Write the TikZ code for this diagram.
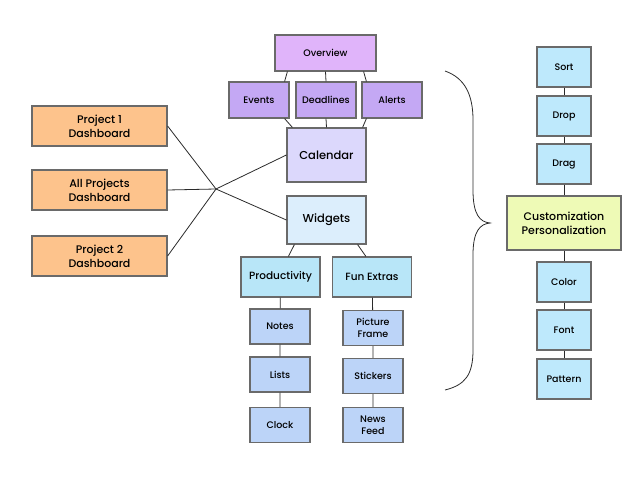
\documentclass[tikz,border=0pt]{standalone}
\usepackage{fontspec}
\setmainfont{Poppins Medium}
\definecolor{edge}{HTML}{6A6A6A}
\definecolor{linkcol}{HTML}{2A2A2A}
\definecolor{ovcol}{HTML}{E0B4FA}
\definecolor{evcol}{HTML}{C4A8F4}
\definecolor{calcol}{HTML}{DCD8FC}
\definecolor{wdgcol}{HTML}{DCEEFC}
\definecolor{grpcol}{HTML}{B8E6F8}
\definecolor{leafcol}{HTML}{BCD4F8}
\definecolor{dashcol}{HTML}{FDC38C}
\definecolor{optcol}{HTML}{BEE9FC}
\definecolor{custcol}{HTML}{EEFAB6}

\begin{document}
\begin{tikzpicture}[x=1pt, y=1pt]
\tikzset{box/.style={draw=edge, line width=1.2pt, align=center, inner sep=0pt},
  small/.style={box, minimum width=60pt, minimum height=36pt, font=\fontsize{9.5}{12}\selectfont},
  link/.style={draw=linkcol, line width=0.8pt}}
\useasboundingbox (0,0) rectangle (640,480);
% calendar part
\node[box, fill=ovcol, minimum width=101pt, minimum height=36pt, font=\fontsize{9.5}{12}\selectfont] (overview) at (325.5, 427){Overview};
\node[small, fill=evcol] (events) at (259, 380){Events};
\node[small, fill=evcol] (deadlines) at (326, 380){Deadlines};
\node[small, fill=evcol] (alerts) at (392, 380){Alerts};
\node[box, fill=calcol, minimum width=79pt, minimum height=54pt, font=\fontsize{11.5}{14}\selectfont] (calendar) at (326.5, 325){Calendar};
% dashboards
\node[box, fill=dashcol, minimum width=135pt, minimum height=40pt, font=\fontsize{11}{14}\selectfont] (proj1) at (99.5, 354){Project 1\\Dashboard};
\node[box, fill=dashcol, minimum width=135pt, minimum height=40pt, font=\fontsize{11}{14}\selectfont] (allproj) at (99.5, 290){All Projects\\Dashboard};
\node[box, fill=dashcol, minimum width=135pt, minimum height=40pt, font=\fontsize{11}{14}\selectfont] (proj2) at (99.5, 224){Project 2\\Dashboard};
\coordinate (hub) at (216, 291);
% widgets part
\node[box, fill=wdgcol, minimum width=79pt, minimum height=48pt, font=\fontsize{11.5}{14}\selectfont] (widgets) at (326.5, 260){Widgets};
\node[box, fill=grpcol, minimum width=79pt, minimum height=40pt, font=\fontsize{10.5}{13}\selectfont] (prod) at (280.5, 203){Productivity};
\node[box, fill=grpcol, minimum width=79pt, minimum height=40pt, font=\fontsize{10.5}{13}\selectfont] (fun) at (372, 203){Fun Extras};
\node[small, fill=leafcol, minimum height=35pt] (notes) at (280, 153.5){Notes};
\node[small, fill=leafcol, minimum height=35pt] (lists) at (280, 105.5){Lists};
\node[small, fill=leafcol, minimum height=35pt] (clock) at (280, 55){Clock};
\node[small, fill=leafcol, minimum height=35pt] (frame) at (373, 152){Picture\\Frame};
\node[small, fill=leafcol, minimum height=35pt] (stickers) at (373, 104){Stickers};
\node[small, fill=leafcol, minimum height=35pt] (news) at (373, 55){News\\Feed};
% customization column
\node[small, fill=optcol, minimum width=54pt, minimum height=40pt] (sort) at (564, 413){Sort};
\node[small, fill=optcol, minimum width=54pt, minimum height=40pt] (drop) at (564, 364){Drop};
\node[small, fill=optcol, minimum width=54pt, minimum height=40pt] (drag) at (564, 316){Drag};
\node[box, fill=custcol, minimum width=114pt, minimum height=54pt, font=\fontsize{11}{14}\selectfont] (custom) at (564, 257){Customization\\Personalization};
\node[small, fill=optcol, minimum width=54pt, minimum height=40pt] (color) at (564, 198){Color};
\node[small, fill=optcol, minimum width=54pt, minimum height=40pt] (font) at (564, 150){Font};
\node[small, fill=optcol, minimum width=54pt, minimum height=40pt] (pattern) at (564, 101){Pattern};
% links
\draw[link] ([xshift=13pt]overview.south west) -- ([xshift=-5pt]events.north east);
\draw[link] (overview.south) -- (deadlines.north);
\draw[link] ([xshift=-13pt]overview.south east) -- ([xshift=5pt]alerts.north west);
\draw[link] ([xshift=-5pt]events.south east) -- ([xshift=6pt]calendar.north west);
\draw[link] (deadlines.south) -- (calendar.north);
\draw[link] ([xshift=5pt]alerts.south west) -- ([xshift=-4pt]calendar.north east);
\draw[link] (proj1.east) -- (hub);
\draw[link] (allproj.east) -- (hub);
\draw[link] (proj2.east) -- (hub);
\draw[link] (hub) -- (calendar.west);
\draw[link] (hub) -- (widgets.west);
\draw[link] ([xshift=8pt]widgets.south west) -- ([xshift=48pt]prod.north west);
\draw[link] ([xshift=-9pt]widgets.south east) -- ([xshift=34pt]fun.north west);
\draw[link] (prod) -- (notes) -- (lists) -- (clock);
\draw[link] (fun) -- (frame) -- (stickers) -- (news);
\draw[link] (sort) -- (drop) -- (drag) -- (custom) -- (color) -- (font) -- (pattern);
% brace
\draw[link] (445, 409) .. controls (465, 402) and (473, 385) .. (473, 360) -- (473, 290)
  .. controls (473, 265) and (480, 258) .. (490, 257)
  .. controls (480, 256) and (473, 249) .. (473, 225) -- (473, 130)
  .. controls (473, 105) and (465, 95) .. (445, 90);
\end{tikzpicture}
\end{document}
